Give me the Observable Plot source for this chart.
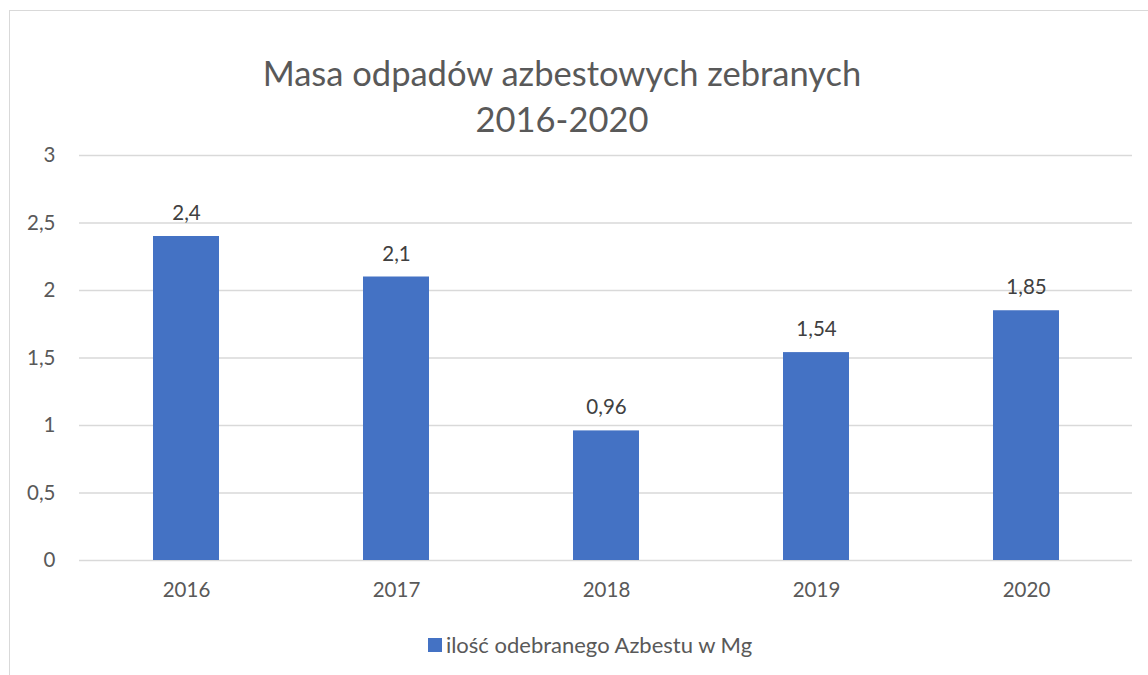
<!DOCTYPE html>
<html>
<head>
<meta charset="utf-8">
<script src="https://cdn.jsdelivr.net/npm/d3@7"></script>
<script src="https://cdn.jsdelivr.net/npm/@observablehq/plot@0.6"></script>
<style>
  html, body { margin: 0; padding: 0; background: #fff; }
  body { width: 1148px; height: 675px; position: relative; overflow: hidden; font-family: Lato, "Open Sans", sans-serif; }
  #frame { position: absolute; left: 9px; top: 10px; width: 1200px; height: 700px; border-left: 1.5px solid #d9d9d9; border-top: 1.5px solid #d9d9d9; }
  #title { position: absolute; left: 0; width: 1124px; top: 50px; text-align: center; color: #595959; font-size: 34.5px; line-height: 46px; }
  #chart { position: absolute; left: 0; top: 0; }
  #legend { position: absolute; top: 631px; left: 0; width: 1180px; display: flex; justify-content: center; align-items: center; color: #595959; font-size: 22px; }
  #legend .sw { width: 14px; height: 14px; background: #4472C4; margin-right: 4px; }
</style>
</head>
<body>
<div id="frame"></div>
<div id="title">Masa odpadów azbestowych zebranych<br>2016-2020</div>
<div id="chart"></div>
<div id="legend"><span class="sw"></span><span>ilość odebranego Azbestu w Mg</span></div>
<script>
const years = ["2016", "2017", "2018", "2019", "2020"];
const values = [2.4, 2.1, 0.96, 1.54, 1.85];
const yTicks = [0, 0.5, 1, 1.5, 2, 2.5, 3];
const seriesName = "ilość odebranego Azbestu w Mg";

const data = years.map((y, i) => ({year: y, value: values[i]}));
const fmt = v => String(v).replace(".", ",");

const chart = Plot.plot({
  width: 1148,
  height: 600,
  marginLeft: 79,
  marginRight: 16,
  marginTop: 155,
  marginBottom: 40,
  style: {fontFamily: "Lato, 'Open Sans', sans-serif", fontSize: "20.5px", color: "#595959", background: "transparent"},
  x: {domain: years, paddingInner: 0.688, paddingOuter: 0.344, label: null},
  y: {domain: [0, 3], label: null},
  marks: [
    Plot.gridY(yTicks, {stroke: "#d9d9d9", strokeOpacity: 1, strokeWidth: 1.3}),
    Plot.axisY(yTicks, {tickSize: 0, tickPadding: 24, tickFormat: fmt, fill: "#595959", fontSize: 20.5, label: null}),
    Plot.axisX({tickSize: 0, tickPadding: 22, fill: "#595959", fontSize: 20.5, label: null}),
    Plot.barY(data, {x: "year", y: "value", fill: "#4472C4"}),
    Plot.text(data, {x: "year", y: "value", text: d => fmt(d.value), dy: -23, fill: "#404040", fontSize: 20.5})
  ]
});
document.getElementById("chart").appendChild(chart);
</script>
</body>
</html>
